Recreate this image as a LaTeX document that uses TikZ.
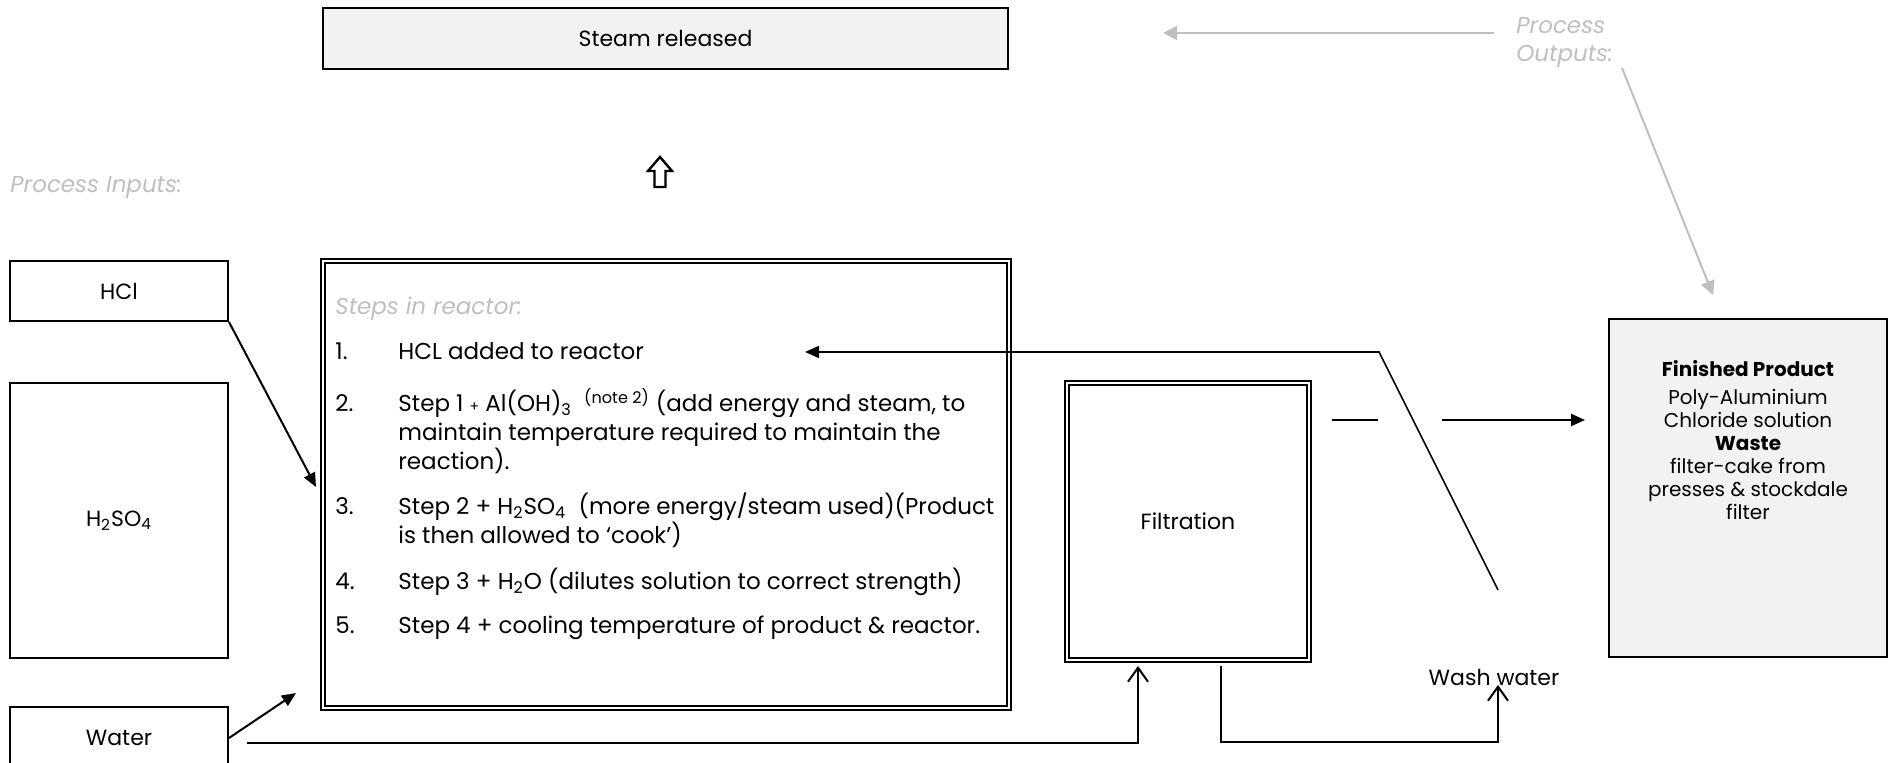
\documentclass[tikz,border=0pt]{standalone}
\usepackage{fontspec}
\setmainfont{Poppins}
\usetikzlibrary{arrows.meta,positioning}
\definecolor{lightline}{HTML}{BFBFBF}
\definecolor{boxfill}{HTML}{F2F2F2}
\tikzset{
  box/.style={draw, line width=1pt, inner sep=0pt, align=center, font=\fontsize{11}{14}\selectfont},
  dbox/.style={box, double, double distance=1.2pt, line width=0.9pt},
  note/.style={text=lightline, inner sep=0pt, align=left, font=\fontsize{11.5}{14}\selectfont\itshape},
  steptxt/.style={anchor=base west, inner sep=0pt, align=left, font=\fontsize{11.5}{14.5}\selectfont},
  flow/.style={line width=1pt, -{Triangle[length=7pt,width=6pt]}},
  pipe/.style={line width=1pt, -{Straight Barb[length=7pt,width=10pt]}},
  grayflow/.style={draw=lightline, line width=1pt, -{Triangle[length=7pt,width=7pt]}}
}
\begin{document}
\begin{tikzpicture}[x=0.5pt,y=-0.5pt]
\useasboundingbox (0,0) rectangle (1889,763);
% boxes
\node[box, fill=boxfill, minimum width=342.5pt, minimum height=30.5pt] (steam) at (665.5,38.5) {Steam released};
\node[box, minimum width=109pt, minimum height=30pt] (hcl) at (119,291) {HCl};
\node[box, minimum width=109pt, minimum height=137.5pt] (acid) at (119,520.5) {H\textsubscript{2}SO\textsubscript{4}};
\node[box, minimum width=109pt, minimum height=31pt] (water) at (119,738) {Water};
\node[dbox, minimum width=343pt, minimum height=223.5pt] (reactor) at (666,484.5) {};
\node[dbox, minimum width=121pt, minimum height=138.5pt] (filter) at (1188,521.5) {Filtration};
\node[box, fill=boxfill, minimum width=139pt, minimum height=169pt] (product) at (1748,488) {};
\node[below=21pt of product.north, inner sep=0pt, align=center, font=\fontsize{10}{11.5}\selectfont] (producttxt)
  {\textbf{Finished Product}\\[2.5pt] Poly-Aluminium\\ Chloride solution\\ \textbf{Waste}\\ filter-cake from\\ presses \& stockdale\\ filter};
% labels
\node[note, anchor=base west] (inputs) at (10,193) {Process Inputs:};
\node[note, anchor=north west] (outputs) at (1516,17) {Process\\Outputs:};
\node[note, anchor=base west] (stepshead) at (335,315) {Steps in reactor:};
\node[steptxt] (n1) at (335,360) {1.};
\node[steptxt] (s1) at (398,360) {HCL added to reactor};
\node[steptxt] (n2) at (335,412) {2.};
\node[steptxt] (s2) at (398,470) {Step 1 {\scriptsize +} Al(OH)\textsubscript{3} \ \textsuperscript{(note 2)} (add energy and steam, to\\maintain temperature required to maintain the\\reaction).};
\node[steptxt] (n3) at (335,515) {3.};
\node[steptxt] (s3) at (398,544) {Step 2 + H\textsubscript{2}SO\textsubscript{4} \ (more energy/steam used)(Product\\is then allowed to `cook')};
\node[steptxt] (n4) at (335,590) {4.};
\node[steptxt] (s4) at (398,590) {Step 3 + H\textsubscript{2}O (dilutes solution to correct strength)};
\node[steptxt] (n5) at (335,634) {5.};
\node[steptxt] (s5) at (398,634) {Step 4 + cooling temperature of product \& reactor.};
\node[inner sep=0pt, font=\fontsize{11}{14}\selectfont] (wash) at (1494,677) {Wash water};
% hollow arrow over the reactor
\draw[line width=1.2pt, line join=miter] (660,157) -- (672,171) -- (665.5,171) -- (665.5,187) -- (654.5,187) -- (654.5,171) -- (648,171) -- cycle;
% connectors
\coordinate (hclin) at (316,487);
\coordinate (waterin) at (296,693);
\coordinate (waterpipe) at (247,743);
\coordinate (filterin) at (1138,666);
\coordinate (filterout) at (1221,666);
\coordinate (washbase) at (1498,742);
\coordinate (washin) at (1498,685);
\coordinate (retstart) at (1498,590);
\coordinate (retbend) at (1379,352);
\coordinate (rettip) at (805,352);
\coordinate (gapa) at (1332,420);
\coordinate (gapb) at (1378,420);
\coordinate (prodfrom) at (1442,420);
\coordinate (prodin) at (1585,420);
\coordinate (outfrom) at (1494,33);
\coordinate (outtip) at (1163,33);
\coordinate (outdiag) at (1622,68);
\coordinate (outdiagtip) at (1713,295);
\draw[flow] (hcl.south east) -- (hclin);
\draw[flow] (water.east) -- (waterin);
\draw[pipe] (waterpipe) -| (filterin);
\draw[pipe] (filterout) |- (washbase) -- (washin);
\draw[flow, line width=0.8pt] (retstart) -- (retbend) -- (rettip);
\draw[line width=1pt] (gapa) -- (gapb);
\draw[flow] (prodfrom) -- (prodin);
\draw[grayflow] (outfrom) -- (outtip);
\draw[grayflow] (outdiag) -- (outdiagtip);
\end{tikzpicture}
\end{document}
